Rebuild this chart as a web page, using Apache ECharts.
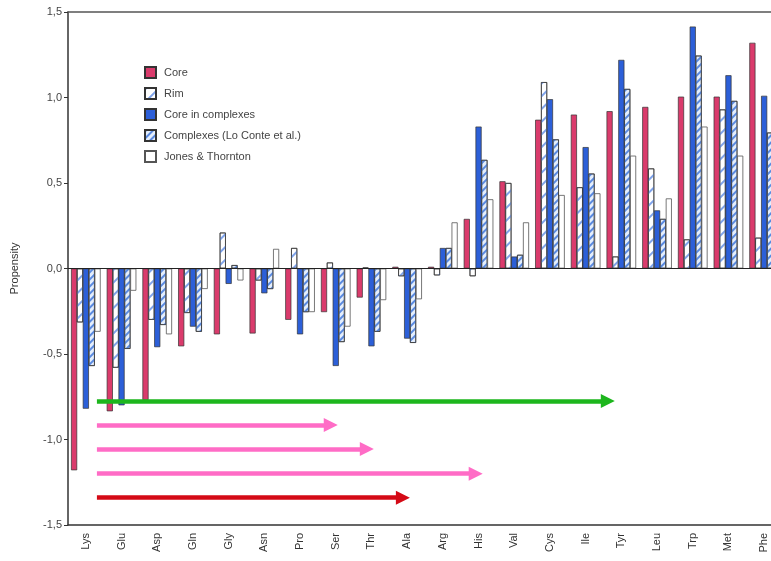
<!DOCTYPE html>
<html>
<head>
<meta charset="utf-8">
<script src="https://cdn.jsdelivr.net/npm/echarts@6/dist/echarts.min.js"></script>
<style>html,body{margin:0;padding:0;background:#fff}#c{width:771px;height:561px}</style>
</head>
<body>
<div id="c"></div>
<script>
const categories = ['Lys','Glu','Asp','Gln','Gly','Asn','Pro','Ser','Thr','Ala','Arg','His','Val','Cys','Ile','Tyr','Leu','Trp','Met','Phe'];
const core        = [-1.18,-0.835,-0.77,-0.455,-0.385,-0.38,-0.30,-0.255,-0.17,0.01,0.01,0.29,0.51,0.87,0.90,0.92,0.945,1.005,1.005,1.32];
const rim         = [-0.315,-0.58,-0.30,-0.26,0.21,-0.07,0.12,0.035,0.005,-0.045,-0.04,-0.045,0.50,1.09,0.475,0.07,0.585,0.17,0.93,0.18];
const coreComplex = [-0.82,-0.80,-0.46,-0.34,-0.09,-0.145,-0.385,-0.57,-0.455,-0.41,0.12,0.83,0.07,0.99,0.71,1.22,0.34,1.415,1.13,1.01];
const complexes   = [-0.57,-0.47,-0.33,-0.37,0.02,-0.12,-0.255,-0.43,-0.37,-0.435,0.12,0.635,0.08,0.755,0.555,1.05,0.29,1.245,0.98,0.795];
const jones       = [-0.37,-0.13,-0.385,-0.12,-0.07,0.115,-0.255,-0.34,-0.185,-0.18,0.27,0.405,0.27,0.43,0.44,0.66,0.41,0.83,0.66,0.81];
const yTicks = [-1.5,-1.0,-0.5,0.0,0.5,1.0,1.5];
// arrows: start/end in category-index units, y in propensity units
const arrows = [
  {from:0.31, to:14.62, y:-0.775, color:'#1db61d'},
  {from:0.31, to:6.86,  y:-0.915, color:'#ff6cc6'},
  {from:0.31, to:7.87,  y:-1.055, color:'#ff6cc6'},
  {from:0.31, to:10.92, y:-1.20, color:'#ff6cc6'},
  {from:0.31, to:8.88,  y:-1.34, color:'#d40a16'}
];

const font = '"Liberation Sans", Arial, sans-serif';
const chart = echarts.init(document.getElementById('c'), null, {renderer:'canvas'});
const border = {borderColor:'#333', borderWidth:0.7};
const decalRim = {symbol:'rect', symbolSize:1, color:'#7fa3ea', dashArrayX:[1,0], dashArrayY:[1.2,7], rotation:-Math.PI/4};
const decalCx  = {symbol:'rect', symbolSize:1, color:'#5a8ae0', dashArrayX:[1,0], dashArrayY:[1.6,3], rotation:-Math.PI/4};

const barBase = {type:'bar', xAxisIndex:0, yAxisIndex:0, barCategoryGap:'17%', barGap:'-4%'};
const series = [
  Object.assign({}, barBase, {name:'Core', data:core, itemStyle:Object.assign({color:'#da3b6c'}, border),
    markLine:{silent:true, symbol:'none', label:{show:false}, lineStyle:{color:'#222', width:1.2, type:'solid'}, data:[{yAxis:0}]}}),
  Object.assign({}, barBase, {name:'Rim', data:rim, itemStyle:Object.assign({color:'#ffffff', decal:decalRim}, border)}),
  Object.assign({}, barBase, {name:'Core in complexes', data:coreComplex, itemStyle:Object.assign({color:'#2c5fd8'}, border)}),
  Object.assign({}, barBase, {name:'Complexes (Lo Conte et al.)', data:complexes, itemStyle:Object.assign({color:'#e4eefc', decal:decalCx}, border)}),
  Object.assign({}, barBase, {name:'Jones & Thornton', data:jones, itemStyle:Object.assign({color:'#ffffff'}, {borderColor:'#555', borderWidth:0.8})})
];
arrows.forEach(a => {
  series.push({type:'line', xAxisIndex:2, yAxisIndex:0, data:[], silent:true,
    markLine:{silent:true, symbol:['none','triangle'], symbolSize:[14,14], label:{show:false},
      lineStyle:{color:a.color, width:4.5, type:'solid', opacity:1},
      emphasis:{disabled:true},
      data:[[{coord:[a.from, a.y]},{coord:[a.to, a.y]}]]}});
});

chart.setOption({
  animation:false,
  backgroundColor:'#fff',
  grid:{left:68, top:12, bottom:36, width:714, containLabel:false, outerBoundsMode:'none'},
  legend:{orient:'vertical', left:139, top:61, itemWidth:11, itemHeight:11, itemGap:8,
    data:['Core','Rim','Core in complexes','Complexes (Lo Conte et al.)','Jones & Thornton'],
    textStyle:{fontFamily:font, fontSize:11, color:'#444', padding:[0,0,0,3]}, icon:'rect'},
  xAxis:[
    {type:'category', data:categories, position:'bottom',
      axisLine:{onZero:false, lineStyle:{color:'#333', width:1.5}}, axisTick:{alignWithLabel:true, length:4, lineStyle:{color:'#333'}},
      axisLabel:{rotate:90, fontFamily:font, fontSize:11, color:'#333', margin:8, interval:0}},
    {type:'category', data:categories, position:'top',
      axisLine:{onZero:false, lineStyle:{color:'#555', width:1.5}}, axisTick:{alignWithLabel:true, inside:true, length:4, lineStyle:{color:'#333'}},
      axisLabel:{show:false}},
    {type:'value', min:-0.5, max:19.5, show:false}
  ],
  yAxis:[{type:'value', min:-1.5, max:1.5, interval:0.5, position:'left',
    name:'Propensity', nameLocation:'middle', nameGap:48, nameRotate:90,
    nameTextStyle:{fontFamily:font, fontSize:11, color:'#333'},
    axisLine:{show:true, onZero:false, lineStyle:{color:'#333', width:1.5}}, axisTick:{show:true, length:4, lineStyle:{color:'#333'}},
    splitLine:{show:false},
    axisLabel:{fontFamily:font, fontSize:11, color:'#444', margin:6,
      formatter:v => (Math.abs(v) < 1e-9 ? 0 : v).toFixed(1).replace('.', ',')}}],
  series:series
});
</script>
</body>
</html>
